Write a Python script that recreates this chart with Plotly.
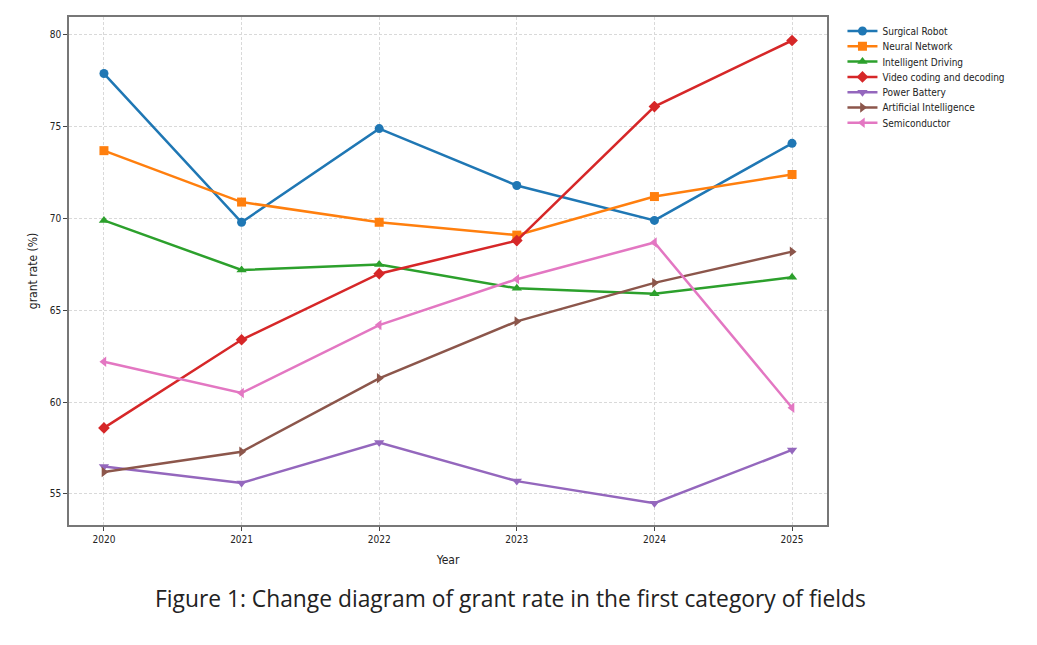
import plotly.graph_objects as go

years = [2020, 2021, 2022, 2023, 2024, 2025]
surgical_robot = [77.9, 69.8, 74.9, 71.8, 69.9, 74.1]
neural_network = [73.7, 70.9, 69.8, 69.1, 71.2, 72.4]
intelligent_driving = [69.9, 67.2, 67.5, 66.2, 65.9, 66.8]
video_coding = [58.6, 63.4, 67.0, 68.8, 76.1, 79.7]
power_battery = [56.5, 55.6, 57.8, 55.7, 54.5, 57.4]
artificial_intelligence = [56.2, 57.3, 61.3, 64.4, 66.5, 68.2]
semiconductor = [62.2, 60.5, 64.2, 66.7, 68.7, 59.7]
y_ticks = [55, 60, 65, 70, 75, 80]

series = [
    ("Surgical Robot", surgical_robot, "#1f77b4", "circle"),
    ("Neural Network", neural_network, "#ff7f0e", "square"),
    ("Intelligent Driving", intelligent_driving, "#2ca02c", "triangle-up"),
    ("Video coding and decoding", video_coding, "#d62728", "diamond"),
    ("Power Battery", power_battery, "#9467bd", "triangle-down"),
    ("Artificial Intelligence", artificial_intelligence, "#8c564b", "triangle-right"),
    ("Semiconductor", semiconductor, "#e377c2", "triangle-left"),
]

# plot area in pixels: left 69, right 827, top 17, bottom 525
PLOT_H = 508
legend_font = dict(family="DejaVu Sans Condensed, sans-serif", size=10, color="#222")

fig = go.Figure()
legend_layouts = {}
for i, (name, vals, color, sym) in enumerate(series):
    lg = "legend" if i == 0 else f"legend{i + 1}"
    fig.add_trace(go.Scatter(
        x=years, y=vals, name=name, mode="lines+markers",
        line=dict(color=color, width=2.5),
        marker=dict(symbol=sym, size=9, color=color),
        legend=lg,
    ))
    py = 31 + i * 15.3
    legend_layouts[lg] = dict(
        x=1.0204, y=(525 - py) / PLOT_H, xanchor="left", yanchor="middle",
        font=legend_font, bgcolor="rgba(0,0,0,0)", itemwidth=30,
    )

tick_font = dict(family="DejaVu Sans Condensed, Liberation Sans Narrow, sans-serif", size=10, color="#222")
fig.update_layout(
    width=1037, height=645,
    margin=dict(l=69, r=210, t=17, b=120),
    paper_bgcolor="white", plot_bgcolor="white",
    showlegend=True,
    xaxis=dict(range=[2019.746, 2025.254], tickvals=years, ticktext=[str(y) for y in years],
               tickfont=tick_font, showgrid=True, gridcolor="#d9d9d9", griddash="3px,2px", gridwidth=1,
               showline=True, linecolor="#777", linewidth=1.5, mirror=True,
               ticks="outside", ticklen=4, tickcolor="#444", zeroline=False,
               title=dict(text="Year", font=dict(family="DejaVu Sans Condensed, sans-serif", size=12, color="#222"), standoff=12)),
    yaxis=dict(range=[53.31, 80.98], tickvals=y_ticks, tickfont=tick_font,
               showgrid=True, gridcolor="#d9d9d9", griddash="3px,2px", gridwidth=1,
               showline=True, linecolor="#777", linewidth=1.5, mirror=True,
               ticks="outside", ticklen=4, tickcolor="#444", zeroline=False,
               title=dict(text="grant rate (%)", font=dict(family="DejaVu Sans Condensed, sans-serif", size=12, color="#222"), standoff=10)),
    **legend_layouts,
)
fig.add_annotation(
    text="Figure 1: Change diagram of grant rate in the first category of fields",
    xref="paper", yref="paper", x=(510 - 69) / 758, y=(525 - 598) / PLOT_H,
    xanchor="center", yanchor="middle", showarrow=False,
    font=dict(family="Open Sans, Noto Sans, sans-serif", size=22.8, color="#222"),
)
fig.write_html("out.html")
